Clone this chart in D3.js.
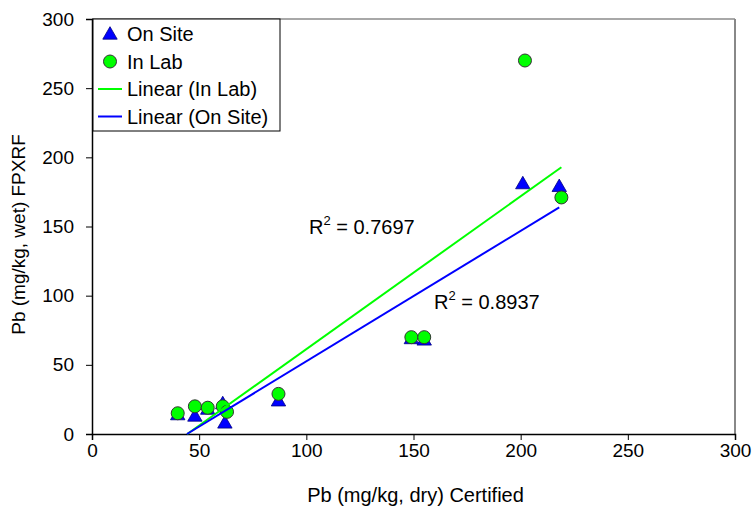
<!DOCTYPE html>
<html>
<head>
<meta charset="utf-8">
<script src="https://cdn.jsdelivr.net/npm/d3@7"></script>
<style>
  body { margin: 0; background: #fff; }
  svg text { font-family: "Liberation Sans", Arial, sans-serif; fill: #000; }
</style>
</head>
<body>
<svg id="chart" width="754" height="512"></svg>
<script>
// certified Pb (dry) vs FPXRF Pb (wet)
var onSiteX = [40, 48, 54, 61, 62, 87, 149, 155, 201, 218];
var onSiteY = [14, 13, 18, 22, 8, 24, 69, 68, 181, 179];
var inLabX = [40, 48, 54, 61, 63, 87, 149, 155, 202, 219];
var inLabY = [15, 20, 19, 20, 16, 29, 70, 70, 270, 171];
var ticks = [0, 50, 100, 150, 200, 250, 300];
var r2Labels = ['0.7697', '0.8937'];

var margin = {left: 92, top: 19, right: 19, bottom: 78};
var width = 754 - margin.left - margin.right;
var height = 512 - margin.top - margin.bottom;

var svg = d3.select('#chart');
var g = svg.append('g')
    .attr('transform', 'translate(' + margin.left + ',' + margin.top + ')');

var x = d3.scaleLinear().domain([0, 300]).range([0, width]);
var y = d3.scaleLinear().domain([0, 300]).range([height, 0]);

// plot frame (top / right are grey)
g.append('line').attr('x1', 0).attr('x2', width).attr('y1', 0).attr('y2', 0)
    .attr('stroke', '#a8a8a8').attr('stroke-width', 2);
g.append('line').attr('x1', width).attr('x2', width).attr('y1', 0).attr('y2', height)
    .attr('stroke', '#888').attr('stroke-width', 2);

var xAxis = g.append('g')
    .attr('transform', 'translate(0,' + height + ')')
    .call(d3.axisBottom(x).tickValues(ticks).tickSize(6).tickPadding(4));
var yAxis = g.append('g')
    .call(d3.axisLeft(y).tickValues(ticks).tickSize(6).tickPadding(12));

[xAxis, yAxis].forEach(function (a) {
  a.select('.domain').attr('stroke', '#000').attr('stroke-width', 1.5);
  a.selectAll('.tick line').attr('stroke', '#000');
  a.selectAll('.tick text').attr('font-size', 19).attr('font-family', '"Liberation Sans", Arial, sans-serif');
});

svg.append('text')
    .attr('x', margin.left + width / 2 + 2).attr('y', 502)
    .attr('text-anchor', 'middle').attr('font-size', 20)
    .text('Pb (mg/kg, dry) Certified');
svg.append('text')
    .attr('transform', 'translate(25,' + (margin.top + height / 2 + 8) + ') rotate(-90)')
    .attr('text-anchor', 'middle').attr('font-size', 19)
    .text('Pb (mg/kg, wet) FPXRF');

function fit(xs, ys) {
  var mx = d3.mean(xs), my = d3.mean(ys);
  var sxy = d3.sum(xs, function (v, i) { return (v - mx) * (ys[i] - my); });
  var sxx = d3.sum(xs, function (v) { return (v - mx) * (v - mx); });
  var b = sxy / sxx;
  return {b: b, a: my - b * mx, x0: d3.min(xs), x1: d3.max(xs)};
}

function trend(f, color) {
  var xs = Math.max(f.x0, -f.a / f.b); // clip at y = 0
  g.append('line')
      .attr('x1', x(xs)).attr('y1', y(f.a + f.b * xs))
      .attr('x2', x(f.x1)).attr('y2', y(f.a + f.b * f.x1))
      .attr('stroke', color).attr('stroke-width', 2);
}

var tri = d3.symbol().type(d3.symbolTriangle).size(90);

var onSite = onSiteX.map(function (v, i) { return [v, onSiteY[i]]; });
var inLab = inLabX.map(function (v, i) { return [v, inLabY[i]]; });

g.selectAll('path.site').data(onSite).enter().append('path')
    .attr('class', 'site')
    .attr('d', tri)
    .attr('transform', function (d) { return 'translate(' + x(d[0]) + ',' + (y(d[1]) + 1) + ')'; })
    .attr('fill', '#0000ff').attr('stroke', '#000080').attr('stroke-width', 0.8);

g.selectAll('circle.lab').data(inLab).enter().append('circle')
    .attr('class', 'lab')
    .attr('cx', function (d) { return x(d[0]); })
    .attr('cy', function (d) { return y(d[1]); })
    .attr('r', 6.5)
    .attr('fill', '#00ff00').attr('stroke', '#333').attr('stroke-width', 1);

trend(fit(inLabX, inLabY), '#00ff00');
trend(fit(onSiteX, onSiteY), '#0000ff');

function r2Text(px, py, val) {
  var t = svg.append('text').attr('x', px).attr('y', py).attr('font-size', 20);
  t.append('tspan').text('R');
  t.append('tspan').attr('font-size', 13).attr('dy', -9).text('2');
  t.append('tspan').attr('dy', 9).text(' = ' + val);
}
r2Text(309, 234, r2Labels[0]);
r2Text(434, 309, r2Labels[1]);

// legend
var lg = svg.append('g').attr('transform', 'translate(93,19)');
lg.append('rect').attr('width', 187).attr('height', 112)
    .attr('fill', '#fff').attr('stroke', '#000').attr('stroke-width', 1);
var items = [
  {label: 'On Site', kind: 'tri'},
  {label: 'In Lab', kind: 'circle'},
  {label: 'Linear (In Lab)', kind: 'line', color: '#00ff00'},
  {label: 'Linear (On Site)', kind: 'line', color: '#0000ff'}
];
items.forEach(function (it, i) {
  var cy = 15 + i * 27.5;
  if (it.kind === 'tri') {
    lg.append('path').attr('d', tri).attr('transform', 'translate(17,' + (cy + 1) + ')')
        .attr('fill', '#0000ff').attr('stroke', '#000080').attr('stroke-width', 0.8);
  } else if (it.kind === 'circle') {
    lg.append('circle').attr('cx', 17).attr('cy', cy).attr('r', 6.5)
        .attr('fill', '#00ff00').attr('stroke', '#333');
  } else {
    lg.append('line').attr('x1', 5).attr('x2', 29).attr('y1', cy).attr('y2', cy)
        .attr('stroke', it.color).attr('stroke-width', 2);
  }
  lg.append('text').attr('x', 34).attr('y', cy + 7).attr('font-size', 20).text(it.label);
});
</script>
</body>
</html>
